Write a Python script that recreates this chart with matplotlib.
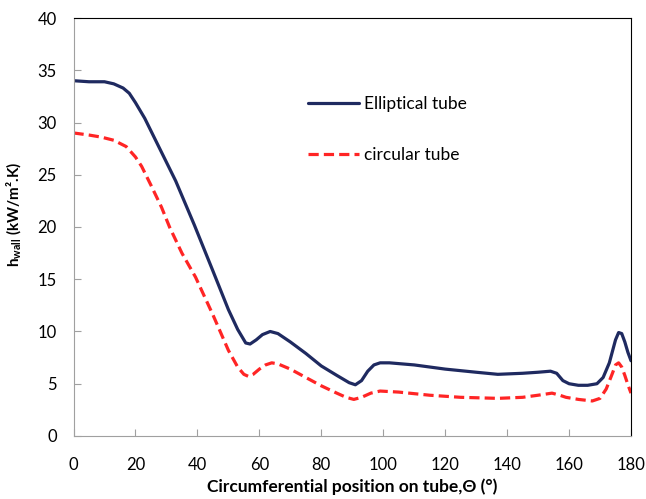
import matplotlib
matplotlib.use("Agg")
import matplotlib.pyplot as plt

plt.rcParams['font.family'] = ['Lato', 'DejaVu Sans']

# Elliptical tube
ell_theta = [0, 5, 10, 13, 16, 18, 20, 23, 28, 33, 39, 45, 50, 53, 55.6, 57, 59, 61, 63.5, 66,
             70, 75, 80, 85, 89, 91, 93, 95, 97, 99, 102, 110, 120, 130, 137, 145, 150, 154,
             156, 158, 160, 163, 166, 169, 171, 173, 175, 176, 177, 178, 179, 180]
ell_h = [34.0, 33.9, 33.9, 33.7, 33.3, 32.8, 31.9, 30.4, 27.4, 24.4, 20.2, 15.8, 12.1, 10.2,
         8.9, 8.8, 9.2, 9.7, 10.0, 9.8, 9.0, 7.9, 6.7, 5.8, 5.1, 4.9, 5.3, 6.2, 6.8, 7.0, 7.0,
         6.8, 6.4, 6.1, 5.9, 6.0, 6.1, 6.2, 6.0, 5.3, 5.0, 4.85, 4.85, 5.0, 5.6, 7.0, 9.2,
         9.9, 9.8, 9.0, 8.0, 7.2]

# circular tube
circ_theta = [0, 5, 9, 13, 17, 20, 22, 25, 28.4, 31, 35, 39.4, 45, 50, 53, 55, 56.5, 58, 60, 62,
              64, 66, 70, 75, 80, 85, 88, 90.5, 93, 96, 99, 105, 115, 125, 137, 145, 150, 154.5,
              157, 159, 163, 167.5, 170, 172, 174, 175, 176, 177, 178, 179, 180]
circ_h = [29.0, 28.8, 28.6, 28.3, 27.7, 26.7, 25.8, 24.0, 21.9, 20.0, 17.5, 15.2, 11.6, 8.2, 6.6,
          5.9, 5.7, 5.9, 6.4, 6.8, 7.0, 6.9, 6.4, 5.6, 4.8, 4.1, 3.7, 3.5, 3.7, 4.1, 4.3, 4.2,
          3.9, 3.7, 3.6, 3.7, 3.9, 4.1, 3.9, 3.7, 3.5, 3.35, 3.6, 4.5, 6.0, 6.8, 7.0, 6.6, 5.8,
          4.9, 4.1]

x_ticks = list(range(0, 181, 20))
y_ticks = list(range(0, 41, 5))

fig = plt.figure(figsize=(6.46, 4.99), dpi=100)
ax = fig.add_axes([0.1138, 0.1263, 0.863, 0.8376])

ax.plot(ell_theta, ell_h, color='#1f2a60', lw=2.3, label='Elliptical tube',
        solid_joinstyle='round', solid_capstyle='round')
ax.plot(circ_theta, circ_h, color='#ff2525', lw=2.3, ls=(0, (3.2, 1.6)), label='circular tube')

ax.set_xlim(0, 180)
ax.set_ylim(0, 40)
ax.set_xticks(x_ticks)
ax.set_yticks(y_ticks)
ax.tick_params(direction='in', length=5, color='#a0a0a0', labelsize=12)
ax.tick_params(axis='y', pad=12)
ax.tick_params(axis='x', pad=15)

for s in ['left', 'bottom']:
    ax.spines[s].set_color('#a0a0a0')
for s in ['top', 'right']:
    ax.spines[s].set_color('black')

ax.set_xlabel('Circumferential position on tube,\u0398 (\u00b0)', fontsize=12.5,
              fontweight='bold')
ax.xaxis.set_label_coords(0.5, -0.102)
ax.set_ylabel('h$_{\\mathregular{wall}}$ (kW/m\u00b2.K)', fontsize=11,
              fontweight='bold')
ax.yaxis.set_label_coords(-0.089, 0.529)

ax.legend(loc='upper left', bbox_to_anchor=(0.393, 0.85), frameon=False, fontsize=12.5,
          handlelength=2.9, handletextpad=0.3, labelspacing=2.0)

fig.savefig('out.png', dpi=100)
